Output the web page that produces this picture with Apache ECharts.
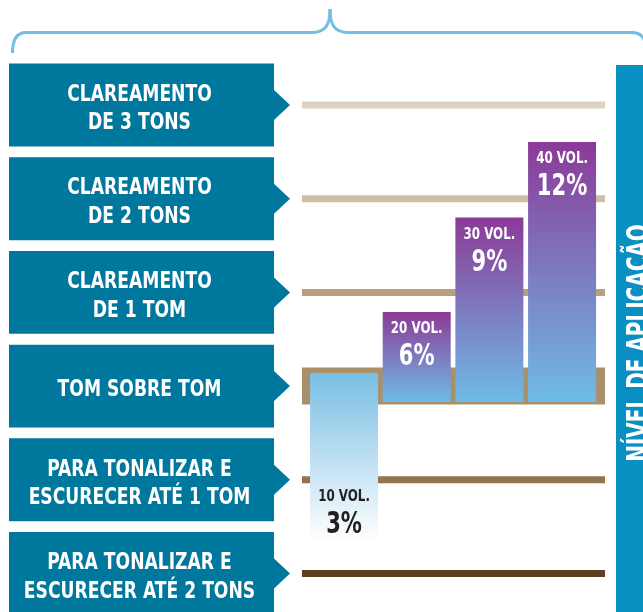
<!DOCTYPE html>
<html>
<head>
<meta charset="utf-8">
<script src="https://cdn.jsdelivr.net/npm/echarts@6/dist/echarts.min.js"></script>
<style>
  html, body { margin: 0; padding: 0; background: #fff; }
  #chart { width: 643px; height: 612px; }
</style>
</head>
<body>
<div id="chart"></div>
<script>
// levels, bottom to top (index = position on the value axis)
const levels = [
  'PARA TONALIZAR E\nESCURECER ATÉ 2 TONS',
  'PARA TONALIZAR E\nESCURECER ATÉ 1 TOM',
  'TOM SOBRE TOM',
  'CLAREAMENTO\nDE 1 TOM',
  'CLAREAMENTO\nDE 2 TONS',
  'CLAREAMENTO\nDE 3 TONS'
]
const volumes = ['10 VOL.', '20 VOL.', '30 VOL.', '40 VOL.']
const percents = ['3%', '6%', '9%', '12%']
// floating bars: where each bar starts and ends, in level units
const barBase = [0.34, 1.83, 1.83, 1.83]
const barTop = [2.14, 2.79, 3.80, 4.605]

// styles
const levelColors = ['#5e3f20', '#94744f', '#a8906c', '#baa07f', '#cfbea6', '#ddd2c3']
const levelWidths = [7, 7, 37, 7, 7, 7]
const FONT = '"DejaVu Sans Condensed", "DejaVu Sans", sans-serif'
const BOX = '#00789e'

const chart = echarts.init(document.getElementById('chart'))

const yCommon = { type: 'value', min: -0.4, max: 5.5, show: false }

function renderLevel (params, api) {
  const i = params.dataIndex
  const cs = params.coordSys
  const y = api.coord([0, api.value(1)])[1]
  const pitch = api.size([0, 1])[1]
  const h = pitch * 0.885
  const left = 9
  const right = cs.x - 28
  const tip = cs.x - 12
  const lw = levelWidths[i]
  return {
    type: 'group',
    children: [
      {
        type: 'rect',
        shape: { x: cs.x, y: y - lw / 2, width: cs.width, height: lw },
        style: { fill: levelColors[i] }
      },
      {
        type: 'polygon',
        shape: {
          points: [
            [left, y - h / 2], [right, y - h / 2], [right, y - 15], [tip, y],
            [right, y + 15], [right, y + h / 2], [left, y + h / 2]
          ]
        },
        style: { fill: BOX }
      },
      {
        type: 'text',
        x: (left + right) / 2 - 2,
        y: y + 4,
        scaleX: 0.83,
        style: {
          text: levels[i],
          x: 0,
          y: 0,
          fill: '#fff',
          font: 'bold 23px ' + FONT,
          lineHeight: 28.5,
          align: 'center',
          verticalAlign: 'middle'
        }
      }
    ]
  }
}

function renderBarLabel (params, api) {
  const i = params.dataIndex
  const top = api.coord([api.value(0), api.value(1)])
  const bottom = api.coord([api.value(0), api.value(2)])
  const first = i === 0
  const color = first ? '#231f20' : '#fff'
  const volY = first ? bottom[1] - 47 : top[1] + 15
  const pctY = first ? bottom[1] - 20 : top[1] + 42
  return {
    type: 'group',
    children: [
      {
        type: 'text',
        x: top[0],
        y: volY + 2,
        scaleX: 0.8,
        style: { text: volumes[i], x: 0, y: 0, fill: color, font: 'bold 16.5px ' + FONT, align: 'center', verticalAlign: 'middle' }
      },
      {
        type: 'text',
        x: top[0],
        y: pctY + 3.5,
        scaleX: 0.78,
        style: { text: percents[i], x: 0, y: 0, fill: color, font: 'bold 30px ' + FONT, align: 'center', verticalAlign: 'middle' }
      }
    ]
  }
}

const barData = barTop.map((t, i) => {
  const first = i === 0
  return {
    value: t - barBase[i],
    itemStyle: {
      color: new echarts.graphic.LinearGradient(0, 0, 0, 1, first
        ? [{ offset: 0, color: '#79bee3' }, { offset: 1, color: '#ffffff' }]
        : [{ offset: 0, color: '#8b3a97' }, { offset: 1, color: '#6ebce6' }])
    }
  }
})

const option = {
  animation: false,
  grid: [
    { left: 302, width: 303, top: 58.15, height: 552.83 },
    { left: 307.7, width: 290.7, top: 58.15, height: 552.83 }
  ],
  xAxis: [
    { type: 'value', gridIndex: 0, min: 0, max: 1, show: false },
    { type: 'category', gridIndex: 1, data: volumes, show: false }
  ],
  yAxis: [
    Object.assign({ gridIndex: 0 }, yCommon),
    Object.assign({ gridIndex: 1 }, yCommon)
  ],
  graphic: [
    // brace
    { type: 'bezierCurve', shape: { x1: 12.5, y1: 53, x2: 26, y2: 32.5, cpx1: 12.5, cpy1: 32.5 }, style: { stroke: '#74bde3', lineWidth: 3, fill: null } },
    { type: 'line', shape: { x1: 26, y1: 32.5, x2: 312, y2: 32.5 }, style: { stroke: '#74bde3', lineWidth: 3 } },
    { type: 'bezierCurve', shape: { x1: 312, y1: 32.5, x2: 330, y2: 9, cpx1: 326, cpy1: 32.5, cpx2: 330, cpy2: 24 }, style: { stroke: '#74bde3', lineWidth: 3, fill: null } },
    { type: 'bezierCurve', shape: { x1: 330, y1: 9, x2: 348, y2: 32.5, cpx1: 330, cpy1: 24, cpx2: 334, cpy2: 32.5 }, style: { stroke: '#74bde3', lineWidth: 3, fill: null } },
    { type: 'line', shape: { x1: 348, y1: 32.5, x2: 632, y2: 32.5 }, style: { stroke: '#74bde3', lineWidth: 3 } },
    { type: 'bezierCurve', shape: { x1: 632, y1: 32.5, x2: 646, y2: 46, cpx1: 644, cpy1: 32.5 }, style: { stroke: '#74bde3', lineWidth: 3, fill: null } },
    // side band
    { type: 'rect', shape: { x: 616, y: 65, width: 40, height: 560 }, style: { fill: '#0a8fc3' } },
    {
      type: 'text',
      x: 640,
      y: 343,
      rotation: Math.PI / 2,
      scaleX: 0.74,
      style: {
        text: 'NÍVEL DE APLICAÇÃO',
        x: 0,
        y: 0,
        fill: '#fff',
        font: 'bold 30px ' + FONT,
        align: 'center',
        verticalAlign: 'middle'
      }
    }
  ],
  series: [
    {
      type: 'custom',
      xAxisIndex: 0,
      yAxisIndex: 0,
      z: 1,
      clip: false,
      silent: true,
      renderItem: renderLevel,
      data: levels.map((_, i) => [0.5, i])
    },
    {
      type: 'bar',
      xAxisIndex: 1,
      yAxisIndex: 1,
      stack: 'vol',
      z: 3,
      silent: true,
      barWidth: 68,
      itemStyle: { color: 'transparent' },
      data: barBase
    },
    {
      type: 'bar',
      xAxisIndex: 1,
      yAxisIndex: 1,
      stack: 'vol',
      z: 3,
      silent: true,
      barWidth: 68,
      data: barData
    },
    {
      type: 'custom',
      xAxisIndex: 1,
      yAxisIndex: 1,
      z: 5,
      clip: false,
      silent: true,
      renderItem: renderBarLabel,
      data: volumes.map((_, i) => [i, barTop[i], barBase[i]])
    }
  ]
}

chart.setOption(option)
</script>
</body>
</html>
